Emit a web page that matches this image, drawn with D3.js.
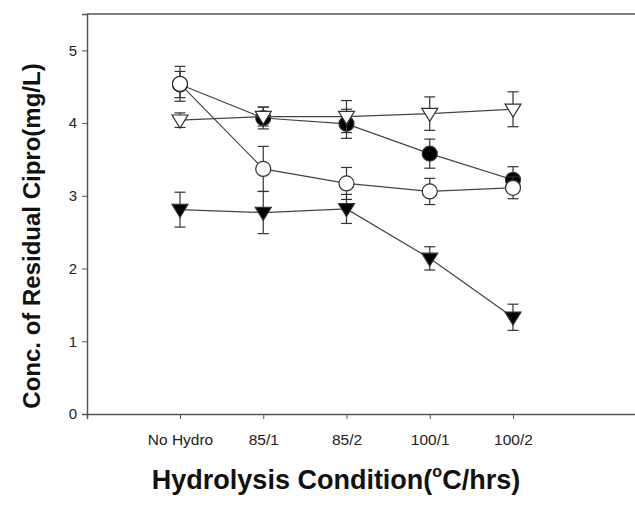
<!DOCTYPE html>
<html><head><meta charset="utf-8">
<script src="https://cdn.jsdelivr.net/npm/d3@7"></script>
<style>body{margin:0;background:#fff}svg{display:block}</style>
</head><body>
<svg id="c" width="635" height="508"></svg>
<script>
const categories = ["No Hydro","85/1","85/2","100/1","100/2"];
const yTicks = [0,1,2,3,4,5];
// series values and error bar half-widths
const filledCircle = [4.53, 4.07, 3.99, 3.58, 3.22];
const filledCircleErr = [0.18, 0.15, 0.2, 0.2, 0.18];
const openCircle = [4.54, 3.37, 3.17, 3.06, 3.11];
const openCircleErr = [0.24, 0.31, 0.22, 0.18, 0.15];
const openTriangle = [4.04, 4.09, 4.09, 4.13, 4.19];
const openTriangleErr = [0.1, 0.13, 0.22, 0.23, 0.24];
const filledTriangle = [2.81, 2.77, 2.82, 2.14, 1.33];
const filledTriangleErr = [0.24, 0.29, 0.2, 0.16, 0.18];

const svg = d3.select("#c");
const L = 87, T = 14, B = 414, R = 645;
const x = d3.scaleLinear().domain([1, 5]).range([180, 513]);
const y = d3.scaleLinear().domain([0, 5.5]).range([B, T]);
const axisColor = "#555";
const font = "Liberation Sans, Arial, sans-serif";

// frame top
svg.append("line").attr("x1", L).attr("x2", R).attr("y1", T).attr("y2", T)
  .attr("stroke", axisColor).attr("stroke-width", 1.5);

const yAxis = d3.axisLeft(y).tickValues(yTicks).tickSize(5).tickPadding(5).tickFormat(d3.format("d"));
const gy = svg.append("g").attr("transform", `translate(${L},0)`).call(yAxis);
const xScaleFull = x.copy().domain([x.invert(L), x.invert(R)]).range([L, R]);
const xAxis = d3.axisBottom(xScaleFull).tickValues(categories.map((c,i)=>i+1)).tickSize(5).tickPadding(15)
  .tickFormat((d)=>categories[d-1]);
const gx = svg.append("g").attr("transform", `translate(0,${B})`).call(xAxis);
[gx, gy].forEach(g => {
  g.select(".domain").attr("stroke", axisColor).attr("stroke-width", 1.5);
  g.selectAll(".tick line").attr("stroke", axisColor);
  g.selectAll("text").attr("fill", "#222").attr("font-family", font).attr("font-size", 15);
});
gx.selectAll("text").attr("font-size", 15.5);

const series = [
  {v: filledCircle, e: filledCircleErr, shape: "circle", fill: "#000"},
  {v: openCircle, e: openCircleErr, shape: "circle", fill: "#fff"},
  {v: openTriangle, e: openTriangleErr, shape: "tri", fill: "#fff"},
  {v: filledTriangle, e: filledTriangleErr, shape: "tri", fill: "#000"},
];
const line = d3.line().x((d,i)=>x(i+1)).y(d=>y(d));
const cap = 5.5;
series.forEach(s => {
  const g = svg.append("g");
  s.v.forEach((v,i) => {
    const cx = x(i+1), t = y(v + s.e[i]), b = y(v - s.e[i]);
    g.append("line").attr("x1", cx).attr("x2", cx).attr("y1", t).attr("y2", b).attr("stroke", "#333").attr("stroke-width", 1.2);
    [t, b].forEach(yy => g.append("line").attr("x1", cx-cap).attr("x2", cx+cap).attr("y1", yy).attr("y2", yy).attr("stroke", "#333").attr("stroke-width", 1.2));
  });
  g.append("path").attr("d", line(s.v)).attr("fill", "none").attr("stroke", "#444").attr("stroke-width", 1.2);
  s.v.forEach((v,i) => {
    const cx = x(i+1), cy = y(v);
    if (s.shape === "circle") {
      g.append("circle").attr("cx", cx).attr("cy", cy).attr("r", 7.5).attr("fill", s.fill).attr("stroke", "#333").attr("stroke-width", 1.2);
    } else {
      const w = 8, h = 13;
      g.append("path").attr("d", `M${cx-w},${cy-h*0.4}L${cx+w},${cy-h*0.4}L${cx},${cy+h*0.6}Z`)
        .attr("fill", s.fill).attr("stroke", "#333").attr("stroke-width", 1.2);
    }
  });
});

// axis titles
svg.append("text").attr("x", 336).attr("y", 489).attr("text-anchor", "middle")
  .attr("font-family", font).attr("font-weight", "bold").attr("font-size", 27).attr("fill", "#111")
  .call(t => {
    t.append("tspan").text("Hydrolysis Condition(");
    t.append("tspan").attr("font-size", 16).attr("dy", -12).text("o");
    t.append("tspan").attr("dy", 12).text("C/hrs)");
  });
svg.append("text").attr("transform", `translate(40,236) rotate(-90)`).attr("text-anchor", "middle")
  .attr("font-family", font).attr("font-weight", "bold").attr("font-size", 24).attr("fill", "#111")
  .text("Conc. of Residual Cipro(mg/L)");
</script>
</body></html>
